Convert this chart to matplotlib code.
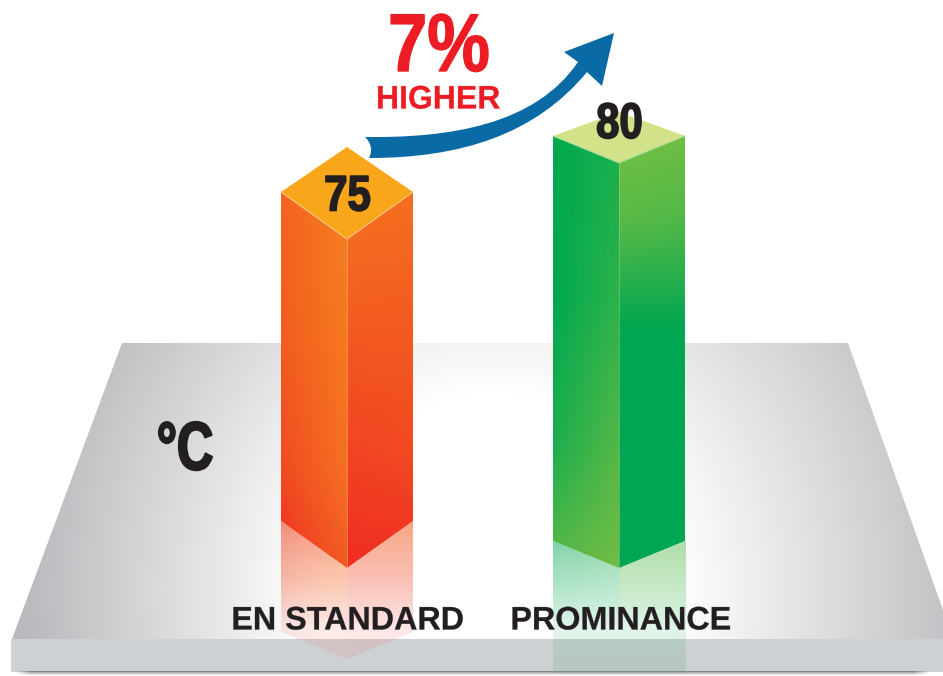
import numpy as np
import matplotlib
matplotlib.use("Agg")
import matplotlib.pyplot as plt
from matplotlib.colors import to_rgba
from matplotlib.patches import Polygon, PathPatch, Rectangle
from matplotlib.path import Path
from matplotlib.patheffects import AbstractPathEffect
from matplotlib.transforms import Affine2D

categories = ["EN STANDARD", "PROMINANCE"]
values = [75, 80]
value_labels = ["75", "80"]
unit_label = "°C"
lift_value = "7%"
lift_word = "HIGHER"

W, H = 943, 676
FONT = ["Liberation Sans", "DejaVu Sans"]
fig = plt.figure(figsize=(W / 100, H / 100), dpi=100, facecolor="white")
ax = fig.add_axes([0, 0, 1, 1])
ax.axis("off")


def value_to_y(v):
    """Height scale of the drawing: pixel row of a bar's top side corners."""
    return 192 - (v - 75) * 11.2


def gradient(poly, x0, x1, ystops, zorder, n=160):
    """Fill a polygon with a gradient: ystops = [(y, left colour, right colour), ...]."""
    ys = np.array([s[0] for s in ystops], float)
    left = np.array([to_rgba(s[1][:7], float(s[3]) if len(s) > 3 else 1) for s in ystops])
    right = np.array([to_rgba(s[2][:7], float(s[3]) if len(s) > 3 else 1) for s in ystops])
    yy = np.linspace(ys[0], ys[-1], n)
    img = np.zeros((n, 32, 4))
    for c in range(4):
        lc = np.interp(yy, ys, left[:, c])
        rc = np.interp(yy, ys, right[:, c])
        t = np.linspace(0, 1, 32)[None, :]
        img[:, :, c] = lc[:, None] * (1 - t) + rc[:, None] * t
    im = ax.imshow(img, extent=(x0, x1, ys[-1], ys[0]), origin="upper",
                   interpolation="bilinear", aspect="auto", zorder=zorder)
    p = Polygon(poly, closed=True, transform=ax.transData, fc="none", ec="none")
    ax.add_patch(p)
    im.set_clip_path(p)


class Squeeze(AbstractPathEffect):
    """Narrow and embolden a text about its anchor, keeping it a real text."""

    def __init__(self, sx, anchor_x, weight=0.0):
        super().__init__()
        self.sx, self.anchor_x, self.weight = sx, anchor_x, weight

    def draw_path(self, renderer, gc, tpath, affine, rgbFace=None):
        x = ax.transData.transform((self.anchor_x, 0))[0]
        aff = affine + Affine2D().translate(-x, 0).scale(self.sx, 1).translate(x, 0)
        gc0 = renderer.new_gc()
        gc0.copy_properties(gc)
        if self.weight:
            gc0.set_linewidth(self.weight)
            gc0.set_foreground(rgbFace)
        else:
            gc0.set_linewidth(0)
        renderer.draw_path(gc0, tpath, aff, rgbFace)
        gc0.restore()


def label(x, y, s, size, color, sx=1.0, weight=0.0, z=10):
    ax.text(x, y, s, fontsize=size, color=color, family=FONT, fontweight="bold",
            ha="center", va="baseline", zorder=z,
            path_effects=[Squeeze(sx, x, weight)])


# ---- plate ----
plate = [(122, 343), (848, 343), (943, 610), (943, 639), (12, 639)]
nx, ny = 480, 300
gx, gy = np.meshgrid(np.linspace(0, W, nx), np.linspace(343, 639, ny))
side = 1.0 + 0.035 * np.clip((490 - gx) / 300, -1, 1)
d = np.sqrt(((gx - 490) / 480) ** 2 + ((gy - 590) / 520) ** 2) * side
t = np.clip((d - 0.38) / 0.62, 0, 1)
light, dark = np.array(to_rgba("#ffffff")), np.array(to_rgba("#b9babd"))
plate_img = light[None, None, :] * (1 - t[..., None]) + dark[None, None, :] * t[..., None]
im = ax.imshow(plate_img, extent=(0, W, 639, 343), origin="upper",
               interpolation="bilinear", aspect="auto", zorder=1)
clip = Polygon(plate, closed=True, fc="none", ec="none", transform=ax.transData)
ax.add_patch(clip)
im.set_clip_path(clip)

# front edge and its shadow
ax.add_patch(Rectangle((11, 639), 932, 33, fc="#cdd1d4", ec="none", zorder=2))
shade = np.zeros((5, 400, 4))
shade[..., :3] = 0.35
edge = np.clip(np.minimum(np.linspace(0, W, 400) - 15, 930 - np.linspace(0, W, 400)) / 15, 0, 1)
shade[..., 3] = np.linspace(0.65, 0.0, 5)[:, None] * edge
ax.imshow(shade, extent=(0, W, 676, 671.5), origin="upper", interpolation="bilinear",
          aspect="auto", zorder=2)

# ---- bars ----
bar_geom = [
    dict(xl=281, xc=347, xr=413, back_off=45, front_off=47, bottom_side=521, bottom_front=568,
         top="#faa61a", line="#fbc98a",
         left=[(150, "#f4661f", "#f68026"), (330, "#f25d20", "#f5791f"),
               (470, "#f04a22", "#f67022"), (570, "#ee2f24", "#f15a22")],
         right=[(150, "#f57a21", "#f57521"), (330, "#f35a20", "#f35a20"),
                (450, "#f14423", "#f24a22"), (570, "#ef2d23", "#ef2e23")]),
    dict(xl=553, xc=619, xr=685, back_off=24, front_off=27, bottom_side=541, bottom_front=568,
         top="#d2e288", line="#a5d69a",
         left=[(110, "#00a94f", "#15ae4e"), (300, "#00a84f", "#2db34b"),
               (450, "#1fae4e", "#55b847"), (570, "#5ab947", "#72bd45")],
         right=[(110, "#7ac143", "#78c043"), (220, "#58ba47", "#50b848"),
                (330, "#00a651", "#00a651"), (570, "#00a651", "#00a651")]),
]
for v, g in zip(values, bar_geom):
    xl, xc, xr = g["xl"], g["xc"], g["xr"]
    ys = value_to_y(v)
    yf = ys + g["front_off"]
    yb = ys - g["back_off"]
    bs, bf = g["bottom_side"], g["bottom_front"]
    gradient([(xl, ys), (xc, yf), (xc, bf), (xl, bs)], xl, xc, g["left"], 5)
    gradient([(xc, yf), (xr, ys), (xr, bs), (xc, bf)], xc, xr, g["right"], 5)
    ax.add_patch(Polygon([(xc, yb), (xr, ys), (xc, yf), (xl, ys)], closed=True,
                         fc=g["top"], ec="none", zorder=6))
    ax.plot([xl, xc, xr], [ys, yf, ys], color=g["line"], lw=0.7, zorder=7)
    ax.plot([xc, xc], [yf, bf], color=g["line"], lw=0.6, alpha=0.55, zorder=7)

# reflections
gradient([(281, 521), (347, 568), (347, 659), (281, 632)], 281, 347,
         [(520, "#f04e2e", "#f2603a", 0.62), (580, "#f2603a", "#f4803a", 0.42),
          (630, "#f26a50", "#f26a50", 0.14), (660, "#e86a60", "#e86a60", 0.12)], 3)
gradient([(347, 568), (413, 521), (413, 632), (347, 659)], 347, 413,
         [(520, "#f47030", "#f47030", 0.62), (580, "#f26a50", "#f26a50", 0.42),
          (630, "#ee6a60", "#ee6a60", 0.16), (660, "#e86a60", "#e86a60", 0.14)], 3)
gradient([(553, 541), (619, 568), (619, 673), (553, 673)], 553, 619,
         [(540, "#00a651", "#30b050", 0.50), (590, "#10ae60", "#30b870", 0.32),
          (630, "#30b870", "#30b870", 0.14), (673, "#70a080", "#70a080", 0.22)], 3)
gradient([(619, 568), (686, 541), (686, 673), (619, 673)], 619, 686,
         [(540, "#60bd50", "#60bd50", 0.50), (590, "#60c060", "#60c060", 0.34),
          (630, "#30b870", "#30b870", 0.14), (673, "#70a080", "#70a080", 0.22)], 3)

# ---- arrow ----
arrow_verts = [
    (365, 137),
    (450, 138), (535, 125), (578, 62),
    (564, 52), (614, 33), (602, 86),
    (587, 72),
    (535, 135), (460, 158), (369, 158),
    (373, 150), (371, 143), (365, 137),
]
arrow_codes = [Path.MOVETO, Path.CURVE4, Path.CURVE4, Path.CURVE4,
               Path.LINETO, Path.LINETO, Path.LINETO, Path.LINETO,
               Path.CURVE4, Path.CURVE4, Path.CURVE4,
               Path.CURVE4, Path.CURVE4, Path.CURVE4]
ax.add_patch(PathPatch(Path(arrow_verts, arrow_codes), fc="#0a6aa5", ec="none", zorder=8))

# ---- text ----
ink = "#231f20"
red = "#ed1c24"
label(439, 71, lift_value, 59, red, sx=0.86, weight=1.0)
label(438, 108.5, lift_word, 23.5, red, sx=0.98, weight=0.2)
label(347.5, 210.5, value_labels[0], 36, ink, sx=0.84, weight=1.2)
label(619.5, 138, value_labels[1], 36, ink, sx=0.84, weight=1.2)
label(185, 469.5, unit_label, 49, ink, sx=0.74, weight=1.6)
label(347.5, 629.5, categories[0], 23.5, ink, sx=0.99, weight=0.2)
label(620.5, 629.5, categories[1], 23.5, ink, sx=0.99, weight=0.2)

ax.set_xlim(0, W)
ax.set_ylim(H, 0)
fig.savefig("out.png", dpi=100, facecolor="white")
